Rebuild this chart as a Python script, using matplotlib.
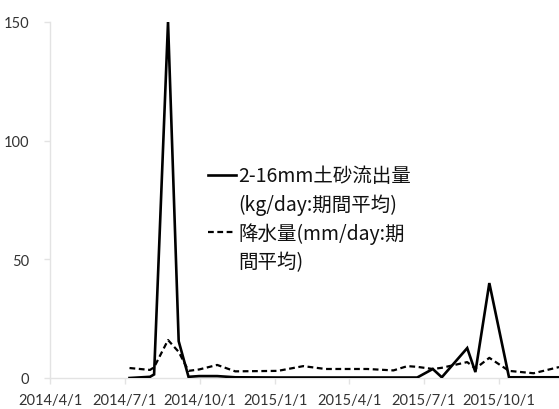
import matplotlib
matplotlib.use("Agg")
import matplotlib.pyplot as plt
from matplotlib.lines import Line2D
import pandas as pd

# period-average observations
dates = ["2014-07-07", "2014-08-01", "2014-08-06", "2014-08-23", "2014-09-05",
         "2014-09-17", "2014-09-30", "2014-10-22", "2014-11-13", "2015-01-04",
         "2015-02-04", "2015-03-03", "2015-04-23", "2015-05-25", "2015-06-11",
         "2015-06-23", "2015-07-12", "2015-07-23", "2015-08-23", "2015-09-02",
         "2015-09-19", "2015-10-13", "2015-11-12", "2015-12-13"]
sediment = [0, 0.5, 1.5, 150, 15.5, 0.5, 0.8, 0.8, 0.3, 0.2,
            0.2, 0.2, 0.2, 0.2, 0.2, 0.2, 3.8, 0.3, 12.6, 2.5,
            40, 0.3, 0.3, 0.3]
rain = [4.2, 3.4, 4.5, 16, 11, 3, 3.6, 5.5, 2.8, 3,
        5, 3.8, 3.8, 3.2, 5, 4.7, 3.8, 4.3, 6.7, 4,
        8.5, 3, 2, 4.6]

tick_dates = ["2014-04-01", "2014-07-01", "2014-10-01", "2015-01-01",
              "2015-04-01", "2015-07-01", "2015-10-01"]
tick_labels = ["2014/4/1", "2014/7/1", "2014/10/1", "2015/1/1",
               "2015/4/1", "2015/7/1", "2015/10/1"]
y_ticks = [0, 50, 100, 150]

x = pd.to_datetime(dates)

fig = plt.figure(figsize=(5.59, 4.10), dpi=100)
ax = fig.add_axes([50 / 559, 31 / 410, 509 / 559, 356 / 410])

ax.plot(x, sediment, color="black", lw=1.9, solid_joinstyle="miter")
ax.plot(x, rain, color="black", lw=1.6, linestyle=(0, (2.6, 1.6)))

ax.set_xlim(pd.Timestamp("2014-04-01"), pd.Timestamp("2015-12-13"))
ax.set_ylim(0, 150)
ax.set_yticks(y_ticks)
ax.set_xticks(pd.to_datetime(tick_dates))
ax.set_xticklabels(tick_labels)

for side in ["top", "right"]:
    ax.spines[side].set_visible(False)
for side in ["left", "bottom"]:
    ax.spines[side].set_color("#e3e3e3")
    ax.spines[side].set_linewidth(1.0)
    ax.spines[side].set_zorder(0)

ax.tick_params(axis="both", color="#e3e3e3", length=4, width=1.0,
               labelcolor="#333333", labelsize=10.5)
ax.tick_params(axis="y", pad=11)
ax.tick_params(axis="x", pad=7)
for lbl in ax.get_xticklabels() + ax.get_yticklabels():
    lbl.set_family(["Lato", "DejaVu Sans"])

# legend: wrapped labels, continuation lines carry no handle
blank = Line2D([], [], color="none")
handles = [Line2D([], [], color="black", lw=1.9), blank,
           Line2D([], [], color="black", lw=1.6, linestyle=(0, (2.6, 1.6))), blank]
labels = ["2-16mm土砂流出量", "(kg/day:期間平均)", "降水量(mm/day:期", "間平均)"]
leg = ax.legend(handles, labels, loc="upper left", bbox_to_anchor=(0.31, 0.597),
                frameon=False, handlelength=1.45, handletextpad=0.1,
                labelspacing=0.36, borderaxespad=0, borderpad=0,
                prop={"family": ["Noto Sans CJK JP", "DejaVu Sans"], "size": 14})
for t in leg.get_texts():
    t.set_color("#111111")

fig.savefig("out.png", dpi=100)
